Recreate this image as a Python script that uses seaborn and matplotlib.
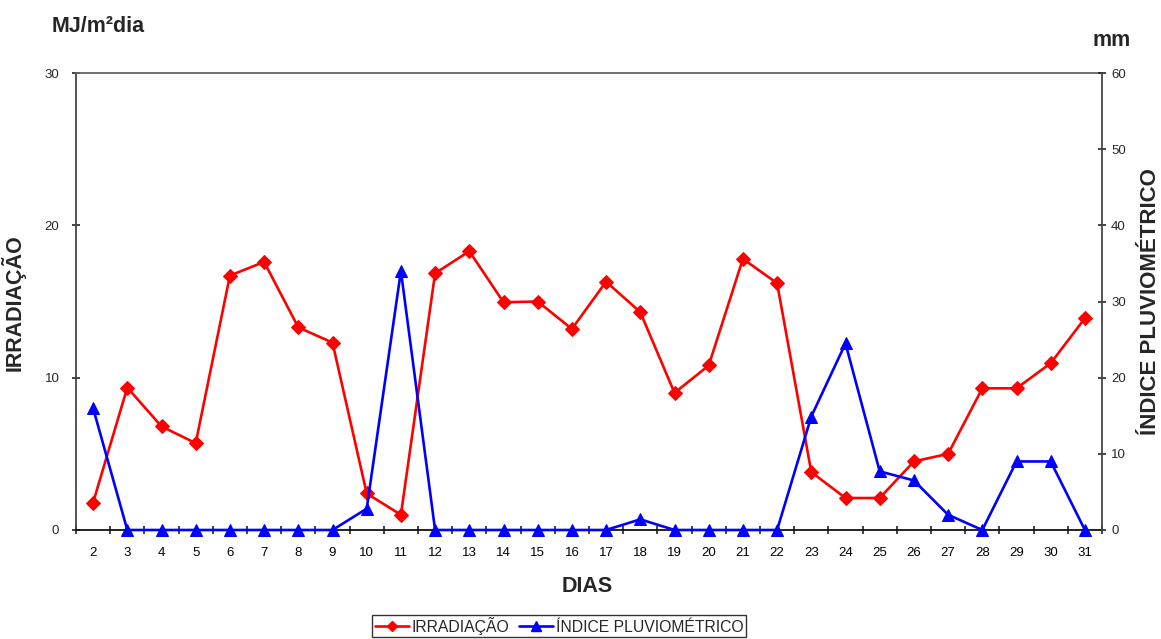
import numpy as np
import pandas as pd
import matplotlib
matplotlib.use("Agg")
import matplotlib.pyplot as plt
import seaborn as sns

# Daily series (days 2..31)
dias = list(range(2, 32))
irradiacao = [1.8, 9.35, 6.8, 5.7, 16.7, 17.6, 13.3, 12.3, 2.4, 1.0,
              16.85, 18.3, 14.95, 15.0, 13.2, 16.3, 14.3, 9.0, 10.8, 17.8,
              16.2, 3.8, 2.1, 2.1, 4.5, 5.0, 9.3, 9.3, 10.95, 13.9]
pluviometrico = [16.0, 0, 0, 0, 0, 0, 0, 0, 2.8, 34.0,
                 0, 0, 0, 0, 0, 0, 1.4, 0, 0, 0,
                 0, 14.9, 24.5, 7.7, 6.5, 2.0, 0, 9.0, 9.0, 0]
left_ticks = [0, 10, 20, 30]
right_ticks = [0, 10, 20, 30, 40, 50, 60]

df = pd.DataFrame({"dia": dias, "irr": irradiacao, "chuva": pluviometrico})

sns.set_theme(style="white")
plt.rcParams["font.family"] = ["Liberation Sans", "DejaVu Sans"]

W, H = 1161, 639
fig = plt.figure(figsize=(W / 100, H / 100), dpi=100)
ax = fig.add_axes([76 / W, 1 - 530 / H, (1102 - 76) / W, (530 - 73) / H])
ax2 = ax.twinx()

sns.lineplot(data=df, x="dia", y="irr", ax=ax, color="#ff0000", marker="D",
             markersize=7, markeredgecolor="#ff0000", linewidth=1.9,
             clip_on=False, zorder=3)
sns.lineplot(data=df, x="dia", y="chuva", ax=ax2, color="#0000ff", marker="^",
             markersize=8.5, markeredgecolor="#0000ff", linewidth=1.9,
             clip_on=False, zorder=3)

ax.set_xlim(1.5, 31.5)
ax.set_ylim(0, 30)
ax2.set_ylim(0, 60)
ax.set_yticks(left_ticks)
ax2.set_yticks(right_ticks)
ax.set_xticks(dias)
ax.set_xticklabels([str(d) for d in dias])
ax.set_xticks(np.arange(1.5, 32, 1.0), minor=True)

for a in (ax, ax2):
    for s in a.spines.values():
        s.set_visible(False)
for s in ("left", "bottom", "top"):
    ax.spines[s].set_visible(True)
    ax.spines[s].set_color("#444444")
    ax.spines[s].set_linewidth(1.3)
ax.spines["top"].set_color("#666666")
ax.spines["bottom"].set_color("#111111")
ax2.spines["right"].set_visible(True)
ax2.spines["right"].set_color("#444444")
ax2.spines["right"].set_linewidth(1.3)

ax.tick_params(axis="x", which="major", length=0, labelsize=9.5, pad=12, colors="black")
ax.tick_params(axis="x", which="minor", length=6, direction="inout", width=1.2,
               color="#222222", bottom=True)
ax.tick_params(axis="y", which="major", length=6, direction="inout", width=1.2,
               labelsize=9.5, color="#222222", left=True, pad=9)
ax2.tick_params(axis="y", which="major", length=6, direction="inout", width=1.2,
                labelsize=9.5, color="#222222", right=True, pad=3.5)

ax.set_xlabel("")
ax.set_ylabel("")
ax2.set_ylabel("")

title_kw = dict(fontsize=15.5, fontweight="bold", ha="center", va="center")
fig.text(98 / W, 1 - 26 / H, "MJ/m²dia", **title_kw)
fig.text(1112 / W, 1 - 40 / H, "mm", **title_kw)
fig.text(13 / W, 1 - 303 / H, "IRRADIAÇÃO", rotation=90, **title_kw)
fig.text(1150 / W, 1 - 302 / H, "ÍNDICE PLUVIOMÉTRICO", rotation=90,
         **{**title_kw, "fontsize": 16})
fig.text(587 / W, 1 - 587 / H, "DIAS", **title_kw)

h1, = ax.plot([], [], color="#ff0000", marker="D", markersize=5, linewidth=1.9)
h2, = ax.plot([], [], color="#0000ff", marker="^", markersize=6.5, linewidth=1.9)
leg = fig.legend([h1, h2], ["IRRADIAÇÃO", "ÍNDICE PLUVIOMÉTRICO"], ncol=2,
                 loc="center", bbox_to_anchor=(559 / W, 1 - 626 / H),
                 frameon=True, fancybox=False, fontsize=11.3, handlelength=2.2,
                 handletextpad=0.15, columnspacing=0.6, borderpad=0.15,
                 borderaxespad=0)
leg.get_frame().set_edgecolor("black")
leg.get_frame().set_linewidth(1.0)

fig.savefig("out.png", dpi=100, facecolor="white")
